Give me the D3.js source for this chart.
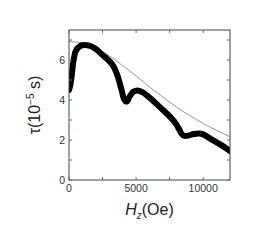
<!DOCTYPE html>
<html><head><meta charset="utf-8">
<script src="https://cdn.jsdelivr.net/npm/d3@7"></script>
<style>body{margin:0;background:#fff}svg{display:block}</style>
</head><body>
<script>
const fieldBlack = [0,100,200,300,450,600,800,1000,1200,1500,2000,2500,3000,3300,3600,3900,4100,4300,4500,4800,5100,5500,6000,6500,7000,7500,8000,8200,8400,8600,8900,9300,9700,10000,10500,11000,11500,12000];
const tauBlack = [4.5,4.75,5.2,5.8,6.35,6.55,6.68,6.74,6.75,6.72,6.55,6.25,5.95,5.7,5.25,4.55,4.05,3.92,4.15,4.42,4.48,4.38,4.12,3.82,3.5,3.18,2.78,2.55,2.3,2.2,2.22,2.3,2.33,2.28,2.08,1.88,1.68,1.45];
const fieldGray = [0,1000,2000,3000,4000,5000,6000,7000,8000,9000,10000,11000,12000];
const tauGray = [6.92,6.85,6.6,6.2,5.72,5.2,4.65,4.15,3.65,3.22,2.83,2.48,2.17];
const xTicks = [0,2500,5000,7500,10000,12000];
const xLabels = [0,5000,10000];
const yTicks = [0,1,2,3,4,5,6,7];
const yLabels = [0,2,4,6];

const W=257,H=241, L=69, R=230, T=30, B=180;
const svg=d3.select("body").append("svg").attr("width",W).attr("height",H);
const x=d3.scaleLinear().domain([0,12000]).range([L,R]);
const y=d3.scaleLinear().domain([0,7.5]).range([B,T]);

const clip=svg.append("clipPath").attr("id","c").append("rect").attr("x",L).attr("y",T).attr("width",R-L).attr("height",B-T);
const g=svg.append("g").attr("clip-path","url(#c)");
const line=d3.line().curve(d3.curveMonotoneX);
g.append("path").attr("d",line(fieldGray.map((f,i)=>[x(f),y(tauGray[i])])))
 .attr("fill","none").attr("stroke","#8a8a8a").attr("stroke-width",0.9);
g.append("path").attr("d",line(fieldBlack.map((f,i)=>[x(f),y(tauBlack[i])])))
 .attr("fill","none").attr("stroke","#000").attr("stroke-width",6).attr("stroke-linejoin","round").attr("stroke-linecap","round");

// frame
svg.append("rect").attr("x",L).attr("y",T).attr("width",R-L).attr("height",B-T).attr("fill","none").attr("stroke","#444").attr("stroke-width",1);
const tk=3;
const ax=svg.append("g").attr("stroke","#666").attr("stroke-width",1);
xTicks.filter(v=>v<12000).forEach(v=>{
  ax.append("line").attr("x1",x(v)).attr("x2",x(v)).attr("y1",B).attr("y2",B-tk);
  ax.append("line").attr("x1",x(v)).attr("x2",x(v)).attr("y1",T).attr("y2",T+tk);
});
yTicks.forEach(v=>{
  ax.append("line").attr("x1",L).attr("x2",L+tk).attr("y1",y(v)).attr("y2",y(v));
  ax.append("line").attr("x1",R).attr("x2",R-tk).attr("y1",y(v)).attr("y2",y(v));
});
const f="Arial, 'Liberation Sans', sans-serif";
svg.append("g").selectAll("text").data(xLabels).join("text")
  .attr("x",d=>x(d)).attr("y",B+12).attr("text-anchor","middle")
  .attr("font-family",f).attr("font-size",10.5).attr("fill","#333").text(d=>d);
svg.append("g").selectAll("text").data(yLabels).join("text")
  .attr("x",L-4).attr("y",d=>y(d)+4).attr("text-anchor","end")
  .attr("font-family",f).attr("font-size",10.5).attr("fill","#333").text(d=>d);

const xl=svg.append("text").attr("x",(L+R)/2).attr("y",215).attr("text-anchor","middle")
  .attr("font-family",f).attr("font-size",16).attr("fill","#222");
xl.append("tspan").attr("font-style","italic").text("H");
xl.append("tspan").attr("font-style","italic").attr("font-size",10).attr("dy",4).text("z");
xl.append("tspan").attr("dy",-4).text("(Oe)");

const yl=svg.append("text").attr("transform",`translate(40,${(T+B)/2}) rotate(-90)`).attr("text-anchor","middle")
  .attr("font-family",f).attr("font-size",16).attr("fill","#222");
yl.append("tspan").text("τ(10");
yl.append("tspan").attr("font-size",10).attr("dy",-6).text("−5");
yl.append("tspan").attr("dy",6).text(" s)");
</script>
</body></html>
